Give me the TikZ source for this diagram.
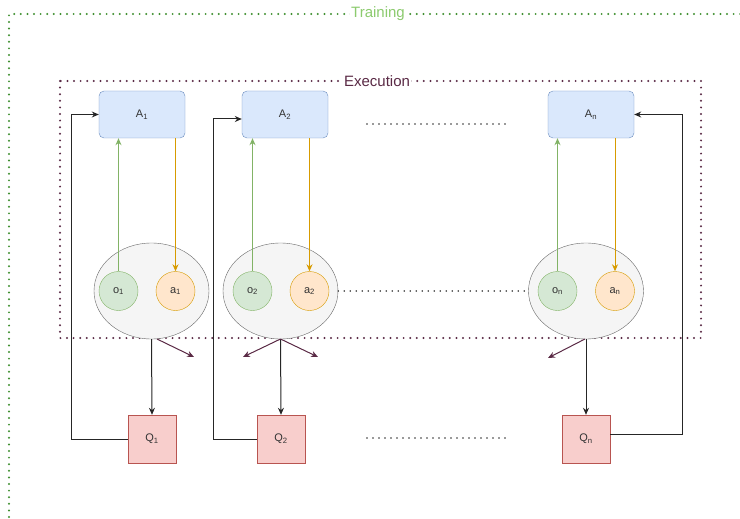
\documentclass[tikz,border=0pt]{standalone}
\usepackage{fontspec}
\setmainfont{Liberation Sans}
\usetikzlibrary{shapes.geometric,arrows.meta,calc}
\definecolor{bluefill}{HTML}{DAE8FC}
\definecolor{bluestroke}{HTML}{6C8EBF}
\definecolor{greenfill}{HTML}{D5E8D4}
\definecolor{greenstroke}{HTML}{82B366}
\definecolor{orangefill}{HTML}{FFE6CC}
\definecolor{orangestroke}{HTML}{D79B00}
\definecolor{redfill}{HTML}{F8CECC}
\definecolor{redstroke}{HTML}{B85450}
\definecolor{grayfill}{HTML}{F5F5F5}
\definecolor{graystroke}{HTML}{666666}
\definecolor{maroon}{HTML}{5A2A45}
\definecolor{traindots}{HTML}{3F8F30}
\definecolor{traintext}{HTML}{8CCB6E}
\definecolor{textgray}{HTML}{333333}
\newcommand{\lbl}[2]{#1\textsubscript{#2}}
\tikzset{
  dotline/.style={line width=2.2pt, line cap=round, dash pattern=on 0pt off 6.6pt},
  labelfont/.style={font=\fontsize{11}{13}\selectfont, text=textgray},
  actor/.style={draw=bluestroke, fill=bluefill, rounded corners=5pt, minimum width=86pt, minimum height=47pt, inner sep=0pt, labelfont},
  group/.style={ellipse, draw=graystroke, fill=grayfill, minimum width=115pt, minimum height=96pt, inner sep=0pt},
  obs/.style={circle, draw=greenstroke, fill=greenfill, minimum size=39pt, inner sep=0pt, labelfont},
  act/.style={circle, draw=orangestroke, fill=orangefill, minimum size=39pt, inner sep=0pt, labelfont},
  critic/.style={draw=redstroke, fill=redfill, minimum width=48pt, minimum height=48pt, inner sep=0pt, labelfont},
  blackarrow/.style={draw=black!85, line width=1pt, -{Stealth[length=7pt,width=6pt]}},
  greenarrow/.style={draw=greenstroke, line width=1pt, -{Stealth[length=7pt,width=6pt]}},
  orangearrow/.style={draw=orangestroke, line width=1pt, -{Stealth[length=7pt,width=6pt]}},
  maroonarrow/.style={draw=maroon, line width=1pt, -{Stealth[length=7pt,width=6pt]}},
}
\begin{document}
\begin{tikzpicture}[x=1pt,y=-1pt]
\useasboundingbox (0,0) rectangle (740,519);

% outer training frame (runs past the page edges)
\draw[dotline, traindots] (760,14) -- (9,14) -- (9,540);
\node[fill=white, inner sep=1.5pt, text=traintext, font=\fontsize{15}{17}\selectfont] at (378,14) {Training};

% execution frame
\draw[dotline, maroon] (60,81) rectangle (701,338);
\node[fill=white, inner sep=1.5pt, text=maroon, font=\fontsize{15}{17}\selectfont] at (377,81) {Execution};

% actors
\node[actor] (A1) at (142,114.5) {\lbl{A}{1}};
\node[actor] (A2) at (285,114.5) {\lbl{A}{2}};
\node[actor] (An) at (591,114.5) {\lbl{A}{n}};

% agent groups
\node[group] (E1) at (151.5,291) {};
\node[group] (E2) at (280.5,291) {};
\node[group] (En) at (586,291) {};

\node[obs] (o1) at (118.5,291) {\lbl{o}{1}};
\node[act] (a1) at (175.5,291) {\lbl{a}{1}};
\node[obs] (o2) at (252.5,291) {\lbl{o}{2}};
\node[act] (a2) at (309.5,291) {\lbl{a}{2}};
\node[obs] (on) at (557.5,291) {\lbl{o}{n}};
\node[act] (an) at (615,291) {\lbl{a}{n}};

% critics
\node[critic] (Q1) at (152,439) {\lbl{Q}{1}};
\node[critic] (Q2) at (281,439) {\lbl{Q}{2}};
\node[critic] (Qn) at (586,439) {\lbl{Q}{n}};

% observation -> actor, actor -> action
\draw[greenarrow] (o1.north) -- (o1.north |- A1.south);
\draw[orangearrow] (a1.north |- A1.south) -- (a1.north);
\draw[greenarrow] (o2.north) -- (o2.north |- A2.south);
\draw[orangearrow] (a2.north |- A2.south) -- (a2.north);
\draw[greenarrow] (on.north) -- (on.north |- An.south);
\draw[orangearrow] (an.north |- An.south) -- (an.north);

% group -> critic
\draw[blackarrow] (E1.south) -- (Q1.north);
\draw[blackarrow] (E2.south) -- (Q2.north);
\draw[blackarrow] (En.south) -- (Qn.north);

% critic -> actor feedback
\draw[blackarrow] (Q1.west) -- (71,439) |- (A1.west);
\coordinate (A2in) at ($(A2.west)+(0,4.5)$);
\draw[blackarrow] (Q2.west) -- (213,439) |- (A2in);
\coordinate (Qnout) at ($(Qn.east)+(0,-5)$);
\draw[blackarrow] (Qnout) -- (682,434) |- (An.east);

% information shared with the neighbouring groups
\coordinate (s1) at (157,339);
\coordinate (t1r) at (194,357);
\coordinate (s2) at (280.5,339);
\coordinate (t2l) at (243,357);
\coordinate (t2r) at (318,357);
\coordinate (sn) at (585,339);
\coordinate (tnl) at (548,358);
\draw[maroonarrow] (s1) -- (t1r);
\draw[maroonarrow] (s2) -- (t2l);
\draw[maroonarrow] (s2) -- (t2r);
\draw[maroonarrow] (sn) -- (tnl);

% ellipsis rows
\draw[dotline, black!80, line width=1.8pt, dash pattern=on 0pt off 6pt] (367,124) -- (507,124);
\draw[dotline, black!80, line width=1.8pt, dash pattern=on 0pt off 6pt] (E2.east) -- (En.west);
\draw[dotline, black!80, line width=1.8pt, dash pattern=on 0pt off 6pt] (367,438) -- (507,438);
\end{tikzpicture}
\end{document}
